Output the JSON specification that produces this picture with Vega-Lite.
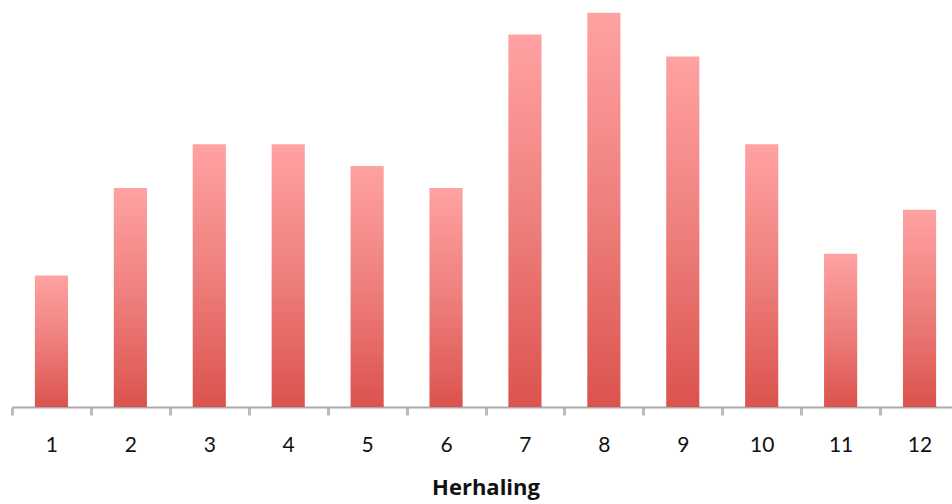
{
  "$schema": "https://vega.github.io/schema/vega-lite/v6.json",
  "width": 940,
  "height": 407,
  "autosize": {"type": "none"},
  "padding": {"left": 12, "top": 0, "right": 0, "bottom": 97},
  "background": "white",
  "config": {
    "view": {"stroke": null},
    "font": "Lato"
  },
  "data": {
    "values": [
      {"herhaling": "1", "waarde": 6},
      {"herhaling": "2", "waarde": 10},
      {"herhaling": "3", "waarde": 12},
      {"herhaling": "4", "waarde": 12},
      {"herhaling": "5", "waarde": 11},
      {"herhaling": "6", "waarde": 10},
      {"herhaling": "7", "waarde": 17},
      {"herhaling": "8", "waarde": 18},
      {"herhaling": "9", "waarde": 16},
      {"herhaling": "10", "waarde": 12},
      {"herhaling": "11", "waarde": 7},
      {"herhaling": "12", "waarde": 9}
    ]
  },
  "mark": {
    "type": "bar",
    "width": {"band": 0.42},
    "fill": {
      "gradient": "linear",
      "x1": 0, "y1": 0, "x2": 0, "y2": 1,
      "stops": [
        {"offset": 0, "color": "#ffa2a2"},
        {"offset": 0.5, "color": "#ee7f7c"},
        {"offset": 1, "color": "#db534e"}
      ]
    }
  },
  "encoding": {
    "x": {
      "field": "herhaling",
      "type": "ordinal",
      "sort": null,
      "scale": {"range": [0, 947], "paddingInner": 0, "paddingOuter": 0},
      "axis": {
        "title": "Herhaling",
        "titleFont": "Open Sans",
        "titleFontSize": 22,
        "titleFontWeight": "bold",
        "titleColor": "#111111",
        "titlePadding": 22,
        "labelAngle": 0,
        "labelFontSize": 21,
        "labelColor": "#111111",
        "labelPadding": 19,
        "tickBand": "extent",
        "tickColor": "#bbbbbb",
        "tickWidth": 3,
        "tickSize": 8,
        "domainColor": "#aaaaaa",
        "domainWidth": 2
      }
    },
    "y": {
      "field": "waarde",
      "type": "quantitative",
      "scale": {"domain": [0, 18.58], "nice": false},
      "axis": null
    }
  }
}
